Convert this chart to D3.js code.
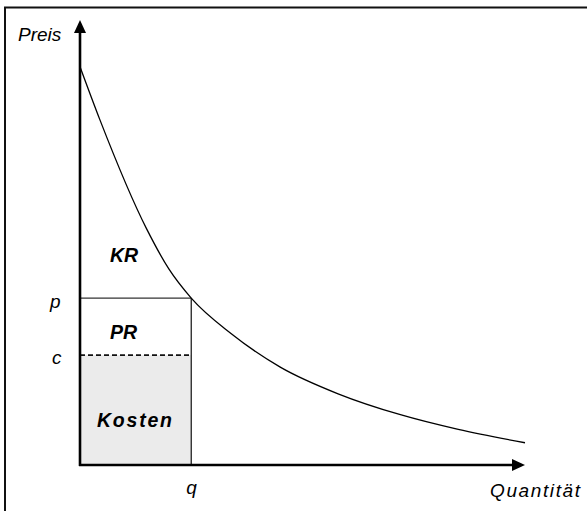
<!DOCTYPE html>
<html>
<head>
<meta charset="utf-8">
<script src="https://cdn.jsdelivr.net/npm/d3@7"></script>
<style>
  html, body { margin: 0; padding: 0; background: #fff; }
  svg { display: block; }
  text { font-family: "Liberation Sans", Arial, Helvetica, sans-serif; fill: #000; }
</style>
</head>
<body>
<script>
// Demand curve: quantity (x) and price (y) in axis units
const demandQ = [0, 4.5, 15, 20, 25, 34, 45, 58, 72, 85, 100];
const demandP = [89.5, 77.5, 53, 44, 37.5, 29.5, 22, 16, 11.3, 8, 5];

// Market point and unit cost
const priceP = 37.5;
const quantityQ = 25;
const costC = 24.7;

// Axis ends
const xMax = 100;
const yMax = 100;

const W = 587, H = 511;
const svg = d3.select("body").append("svg").attr("width", W).attr("height", H);

const x = d3.scaleLinear().domain([0, xMax]).range([80, 525]);
const y = d3.scaleLinear().domain([0, yMax]).range([465, 20]);

// Frame (its right and bottom sides run past the page edge)
svg.append("rect")
  .attr("x", 5).attr("y", 7.5)
  .attr("width", 700).attr("height", 700)
  .attr("fill", "none").attr("stroke", "#111").attr("stroke-width", 2);

// Cost area
svg.append("rect")
  .attr("x", x(0)).attr("y", y(costC))
  .attr("width", x(quantityQ) - x(0))
  .attr("height", y(0) - y(costC))
  .attr("fill", "#ebebeb");

// Revenue rectangle outline (p line and q line)
svg.append("line")
  .attr("x1", x(0)).attr("x2", x(quantityQ))
  .attr("y1", y(priceP)).attr("y2", y(priceP))
  .attr("stroke", "#333").attr("stroke-width", 1.3);
svg.append("line")
  .attr("x1", x(quantityQ)).attr("x2", x(quantityQ))
  .attr("y1", y(priceP)).attr("y2", y(0))
  .attr("stroke", "#222").attr("stroke-width", 1.3);

// Cost level (dashed)
svg.append("line")
  .attr("x1", x(0)).attr("x2", x(quantityQ))
  .attr("y1", y(costC)).attr("y2", y(costC))
  .attr("stroke", "#111").attr("stroke-width", 1.8)
  .attr("stroke-dasharray", "5,3");

// Demand curve
const pts = demandQ.map((q, i) => [q, demandP[i]]);
svg.append("path")
  .datum(pts)
  .attr("d", d3.line().x(d => x(d[0])).y(d => y(d[1])).curve(d3.curveMonotoneX))
  .attr("fill", "none").attr("stroke", "#000").attr("stroke-width", 1.3);

// Axes with arrowheads
svg.append("line")
  .attr("x1", x(0)).attr("x2", x(0))
  .attr("y1", y(0) + 1).attr("y2", y(yMax) + 10)
  .attr("stroke", "#000").attr("stroke-width", 2.6);
svg.append("line")
  .attr("x1", x(0) - 1).attr("x2", x(xMax) - 10)
  .attr("y1", y(0)).attr("y2", y(0))
  .attr("stroke", "#000").attr("stroke-width", 2.6);

svg.append("path")
  .attr("d", `M${x(0)},${y(yMax)} L${x(0) + 6},${y(yMax) + 13} L${x(0) - 6},${y(yMax) + 13} Z`)
  .attr("fill", "#000");
svg.append("path")
  .attr("d", `M${x(xMax)},${y(0)} L${x(xMax) - 13},${y(0) - 6} L${x(xMax) - 13},${y(0) + 6} Z`)
  .attr("fill", "#000");

// Axis titles
svg.append("text").text("Preis")
  .attr("x", 18).attr("y", 41)
  .attr("font-size", 19).attr("font-style", "italic");
svg.append("text").text("Quantität")
  .attr("x", 490).attr("y", 497)
  .attr("font-size", 19).attr("font-style", "italic")
  .attr("textLength", 90).attr("lengthAdjust", "spacing");

// Level labels
svg.append("text").text("p")
  .attr("x", 50).attr("y", y(priceP) + 9.5)
  .attr("font-size", 19).attr("font-style", "italic");
svg.append("text").text("c")
  .attr("x", 52).attr("y", y(costC) + 8.5)
  .attr("font-size", 19).attr("font-style", "italic");
svg.append("text").text("q")
  .attr("x", x(quantityQ) - 5).attr("y", 494)
  .attr("font-size", 19).attr("font-style", "italic");

// Area labels
const areaLabel = (t, px, py, size, len) => {
  const el = svg.append("text").text(t)
    .attr("x", px).attr("y", py)
    .attr("font-size", size).attr("font-style", "italic").attr("font-weight", "bold");
  if (len) el.attr("textLength", len).attr("lengthAdjust", "spacing");
  return el;
};

areaLabel("KR", 110, 262, 19.5);
areaLabel("PR", 110, 339, 19.5);
areaLabel("Kosten", 97, 427, 19.5, 75);
</script>
</body>
</html>
